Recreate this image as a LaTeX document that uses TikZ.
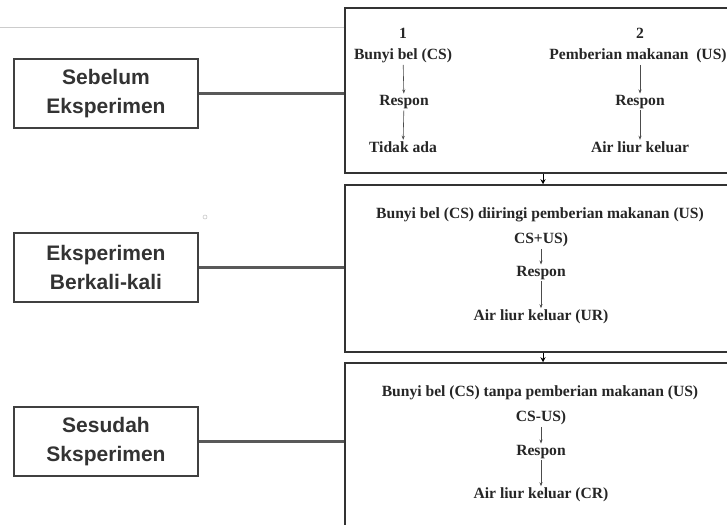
\documentclass[tikz,border=0pt]{standalone}
\usepackage{fontspec}
\setmainfont{Liberation Serif}
\newfontfamily\arialf{Liberation Sans}
\usetikzlibrary{arrows.meta}
\begin{document}
\begin{tikzpicture}[x=1pt,y=-1pt,
  leftbox/.style={draw=black!75,line width=1.5pt,minimum width=184pt,minimum height=69pt,inner sep=0pt,
    align=center,font=\arialf\bfseries\fontsize{21}{29}\selectfont,text=black!80},
  rightbox/.style={draw=black!80,line width=1.5pt,inner sep=0pt},
  txt/.style={font=\bfseries\fontsize{15.6}{17}\selectfont,inner sep=1.5pt,text=black!85},
  conn/.style={draw=black!65,line width=2.4pt},
  flow/.style={draw=black!70,line width=0.6pt,-{Stealth[length=4pt,width=3pt]}},
  stepflow/.style={draw=black,line width=1pt,-{Stealth[length=5pt,width=5pt]}}]
\clip (0,0) rectangle (727,524);
\fill[white] (0,0) rectangle (727,524);
% faint artifacts
\draw[black!20,line width=0.8pt] (0,27) -- (345,27);
\draw[black!25,line width=0.5pt] (205,217) circle (2);
% left boxes
\node[leftbox] (L1) at (106,93.5) {Sebelum\\Eksperimen};
\node[leftbox] (L2) at (106,267.5) {Eksperimen\\Berkali-kali};
\node[leftbox] (L3) at (106,441.5) {Sesudah\\Sksperimen};
% right boxes
\node[rightbox,minimum width=415pt,minimum height=165pt] (A) at (552.5,90.5) {};
\node[rightbox,minimum width=415pt,minimum height=167pt] (B) at (552.5,268.5) {};
\node[rightbox,minimum width=415pt,minimum height=197pt] (C) at (552.5,461.5) {};
% connectors
\draw[conn] (L1.east) -- (L1.east -| A.west);
\draw[conn] (L2.east) -- (L2.east -| B.west);
\draw[conn] (L3.east) -- (L3.east -| C.west);
\coordinate (m) at (543,0);
\draw[stepflow] (A.south -| m) -- (B.north -| m);
\draw[stepflow] (B.south -| m) -- (C.north -| m);
% box A
\node[txt] (a0) at (403,33) {1};
\node[txt] (a1) at (403,56) {Bunyi bel (CS)};
\node[txt] (a2) at (404,102) {Respon};
\node[txt] (a3) at (403,147) {Tidak ada};
\draw[flow] (a1) -- (a2);
\draw[flow] (a2) -- (a3);
\node[txt] (b0) at (640,33) {2};
\node[txt] (b1) at (638,56) {Pemberian makanan\ \ (US)};
\node[txt] (b2) at (640,102) {Respon};
\node[txt] (b3) at (640,147) {Air liur keluar};
\draw[flow] (b1.south -| b2) -- (b2);
\draw[flow] (b2) -- (b3);
% box B
\node[txt] (c0) at (540,215) {Bunyi bel (CS) diiringi pemberian makanan (US)};
\node[txt] (c1) at (541,240) {CS+US)};
\node[txt] (c2) at (541,273) {Respon};
\node[txt] (c3) at (541,317) {Air liur keluar (UR)};
\draw[flow] (c1) -- (c2);
\draw[flow] (c2) -- (c3);
% box C
\node[txt] (d0) at (540,393) {Bunyi bel (CS) tanpa pemberian makanan (US)};
\node[txt] (d1) at (541,418) {CS-US)};
\node[txt] (d2) at (541,452) {Respon};
\node[txt] (d3) at (541,495) {Air liur keluar (CR)};
\draw[flow] (d1) -- (d2);
\draw[flow] (d2) -- (d3);
\end{tikzpicture}
\end{document}
